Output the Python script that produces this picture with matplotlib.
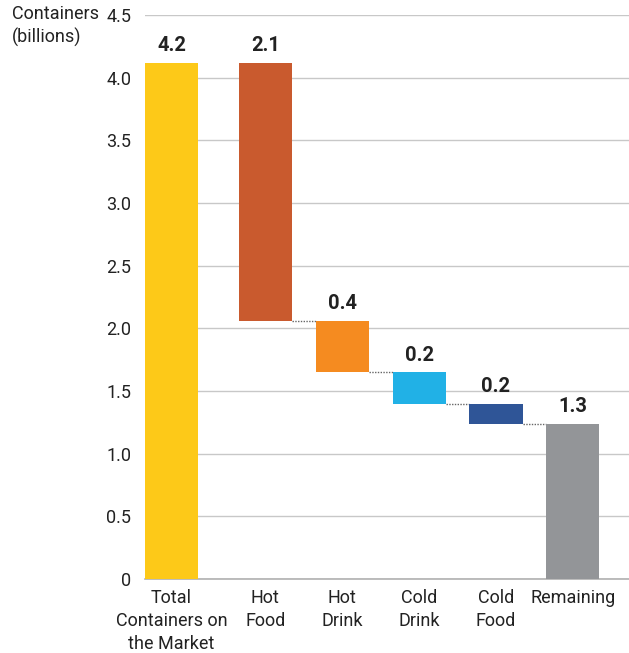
import numpy as np
import matplotlib.pyplot as plt

plt.rcParams['font.family'] = ['Roboto', 'DejaVu Sans']

categories = ["Total\nContainers on\nthe Market", "Hot\nFood", "Hot\nDrink",
              "Cold\nDrink", "Cold\nFood", "Remaining"]
steps = [4.12, -2.06, -0.41, -0.25, -0.16]   # total then reductions
remaining = 1.24
value_labels = ["4.2", "2.1", "0.4", "0.2", "0.2", "1.3"]
colors = ["#FDC918", "#C95A2E", "#F58B20", "#21B1E6", "#2F5597", "#939598"]

# waterfall bottoms / heights
bottoms = []
heights = []
level = 0
for s in steps:
    if s >= 0:
        bottoms.append(level)
        heights.append(s)
        level += s
    else:
        level += s
        bottoms.append(level)
        heights.append(-s)
bottoms.append(0)
heights.append(remaining)

xpos = np.array([0, 1.22, 2.22, 3.22, 4.22, 5.22])
width = 0.69

fig = plt.figure(figsize=(6.29, 6.53), dpi=100)
ax = fig.add_axes([0.2305, 0.1133, 0.7695, 0.8637])

ax.bar(xpos, heights, width=width, bottom=bottoms, color=colors, zorder=3)

# dotted connectors at the bottom of each falling bar
for i in range(1, len(xpos) - 1):
    y = bottoms[i]
    ax.plot([xpos[i] + width / 2, xpos[i + 1] - width / 2], [y, y],
            ls=(0, (1, 1)), color="#666666", lw=1, zorder=2)

for x, b, h, t in zip(xpos, bottoms, heights, value_labels):
    ax.text(x, b + h + 0.06, t, ha="center", va="bottom",
            fontsize=14.5, fontweight="bold", color="#222222")

ax.set_xlim(-width / 2, 5.95)
ax.set_ylim(0, 4.5)
ax.set_yticks(np.arange(0, 4.51, 0.5))
ax.set_yticklabels(["0"] + [f"{v:.1f}" for v in np.arange(0.5, 4.51, 0.5)])
ax.set_xticks(xpos)
ax.set_xticklabels(categories, fontsize=13, color="#222222", linespacing=1.35)
ax.tick_params(axis="y", length=0, pad=10, labelsize=13, labelcolor="#222222")
ax.tick_params(axis="x", length=0, pad=7)
ax.yaxis.grid(True, color="#c8c8c8", lw=1, zorder=0)
for sp in ["top", "right", "left"]:
    ax.spines[sp].set_visible(False)
ax.spines["bottom"].set_color("#b0b0b0")
ax.spines["bottom"].set_linewidth(1.2)

fig.text(12 / 629, 1 - 5 / 653, "Containers\n(billions)", ha="left", va="top",
         fontsize=13, color="#222222", linespacing=1.3)

fig.savefig("out.png", dpi=100)
